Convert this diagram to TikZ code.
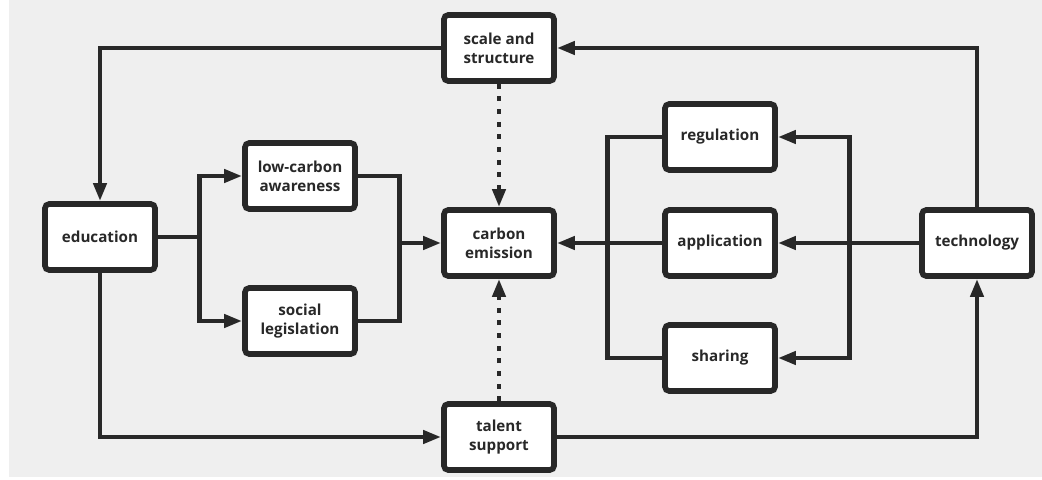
\documentclass[tikz,border=0pt]{standalone}
\usepackage{fontspec}
\setmainfont{Open Sans}
\usetikzlibrary{arrows.meta}
\definecolor{ink}{RGB}{40,40,40}
\definecolor{paper}{RGB}{239,239,239}
\tikzset{
  box/.style={draw=ink, line width=4pt, fill=white, rounded corners=3pt,
    minimum width=2.75cm, minimum height=1.65cm, align=center,
    text=ink, font=\fontsize{10.8}{13.5}\selectfont\bfseries},
  link/.style={draw=ink, line width=3.5pt},
  flow/.style={link, -{Triangle[length=0.45cm,width=0.32cm]}},
  hint/.style={flow, dash pattern=on 3.5pt off 5.5pt}
}

\begin{document}
\begin{tikzpicture}[x=0.025cm, y=-0.025cm]
  \useasboundingbox (0,0) rectangle (1042,480);
  \fill[paper] (9,0) rectangle (1042,477);

  % nodes
  \node[box] (scale)  at (499,48)  {scale and\\structure};
  \node[box] (edu)    at (100,237) {education};
  \node[box] (aware)  at (300,176) {low-carbon\\awareness};
  \node[box] (law)    at (300,321) {social\\legislation};
  \node[box] (carbon) at (499,243) {carbon\\emission};
  \node[box] (reg)    at (720,137) {regulation};
  \node[box] (app)    at (720,243) {application};
  \node[box] (share)  at (720,358) {sharing};
  \node[box] (tech)   at (977,243) {technology};
  \node[box] (talent) at (499,437) {talent\\support};

  % junctions
  \coordinate (eduj)  at ([xshift=1.05cm]edu.east);
  \coordinate (mixj)  at ([xshift=-1.05cm]carbon.west);
  \coordinate (techj) at ([xshift=-1.75cm]tech.west);
  \coordinate (gatj)  at ([xshift=-1.375cm]app.west);

  % outer loop
  \draw[flow] (scale.west) -| (edu.north);
  \draw[flow] (tech.north) |- (scale.east);
  \draw[flow] (edu.south) |- (talent.west);
  \draw[flow] (talent.east) -| (tech.south);
  \draw[hint] (scale.south) -- (carbon.north);
  \draw[hint] (talent.north) -- (carbon.south);

  % left side
  \draw[link] (edu.east) -- (eduj);
  \draw[flow] (eduj) |- (aware.west);
  \draw[flow] (eduj) |- (law.west);
  \draw[link] (aware.east) -| (mixj);
  \draw[link] (law.east) -| (mixj);
  \draw[flow] (mixj) -- (carbon.west);

  % right side
  \draw[flow] (tech.west) -- (app.east);
  \draw[flow] (techj) |- (reg.east);
  \draw[flow] (techj) |- (share.east);
  \draw[link] (reg.west) -| (gatj) |- (share.west);
  \draw[flow] (app.west) -- (carbon.east);
\end{tikzpicture}
\end{document}
